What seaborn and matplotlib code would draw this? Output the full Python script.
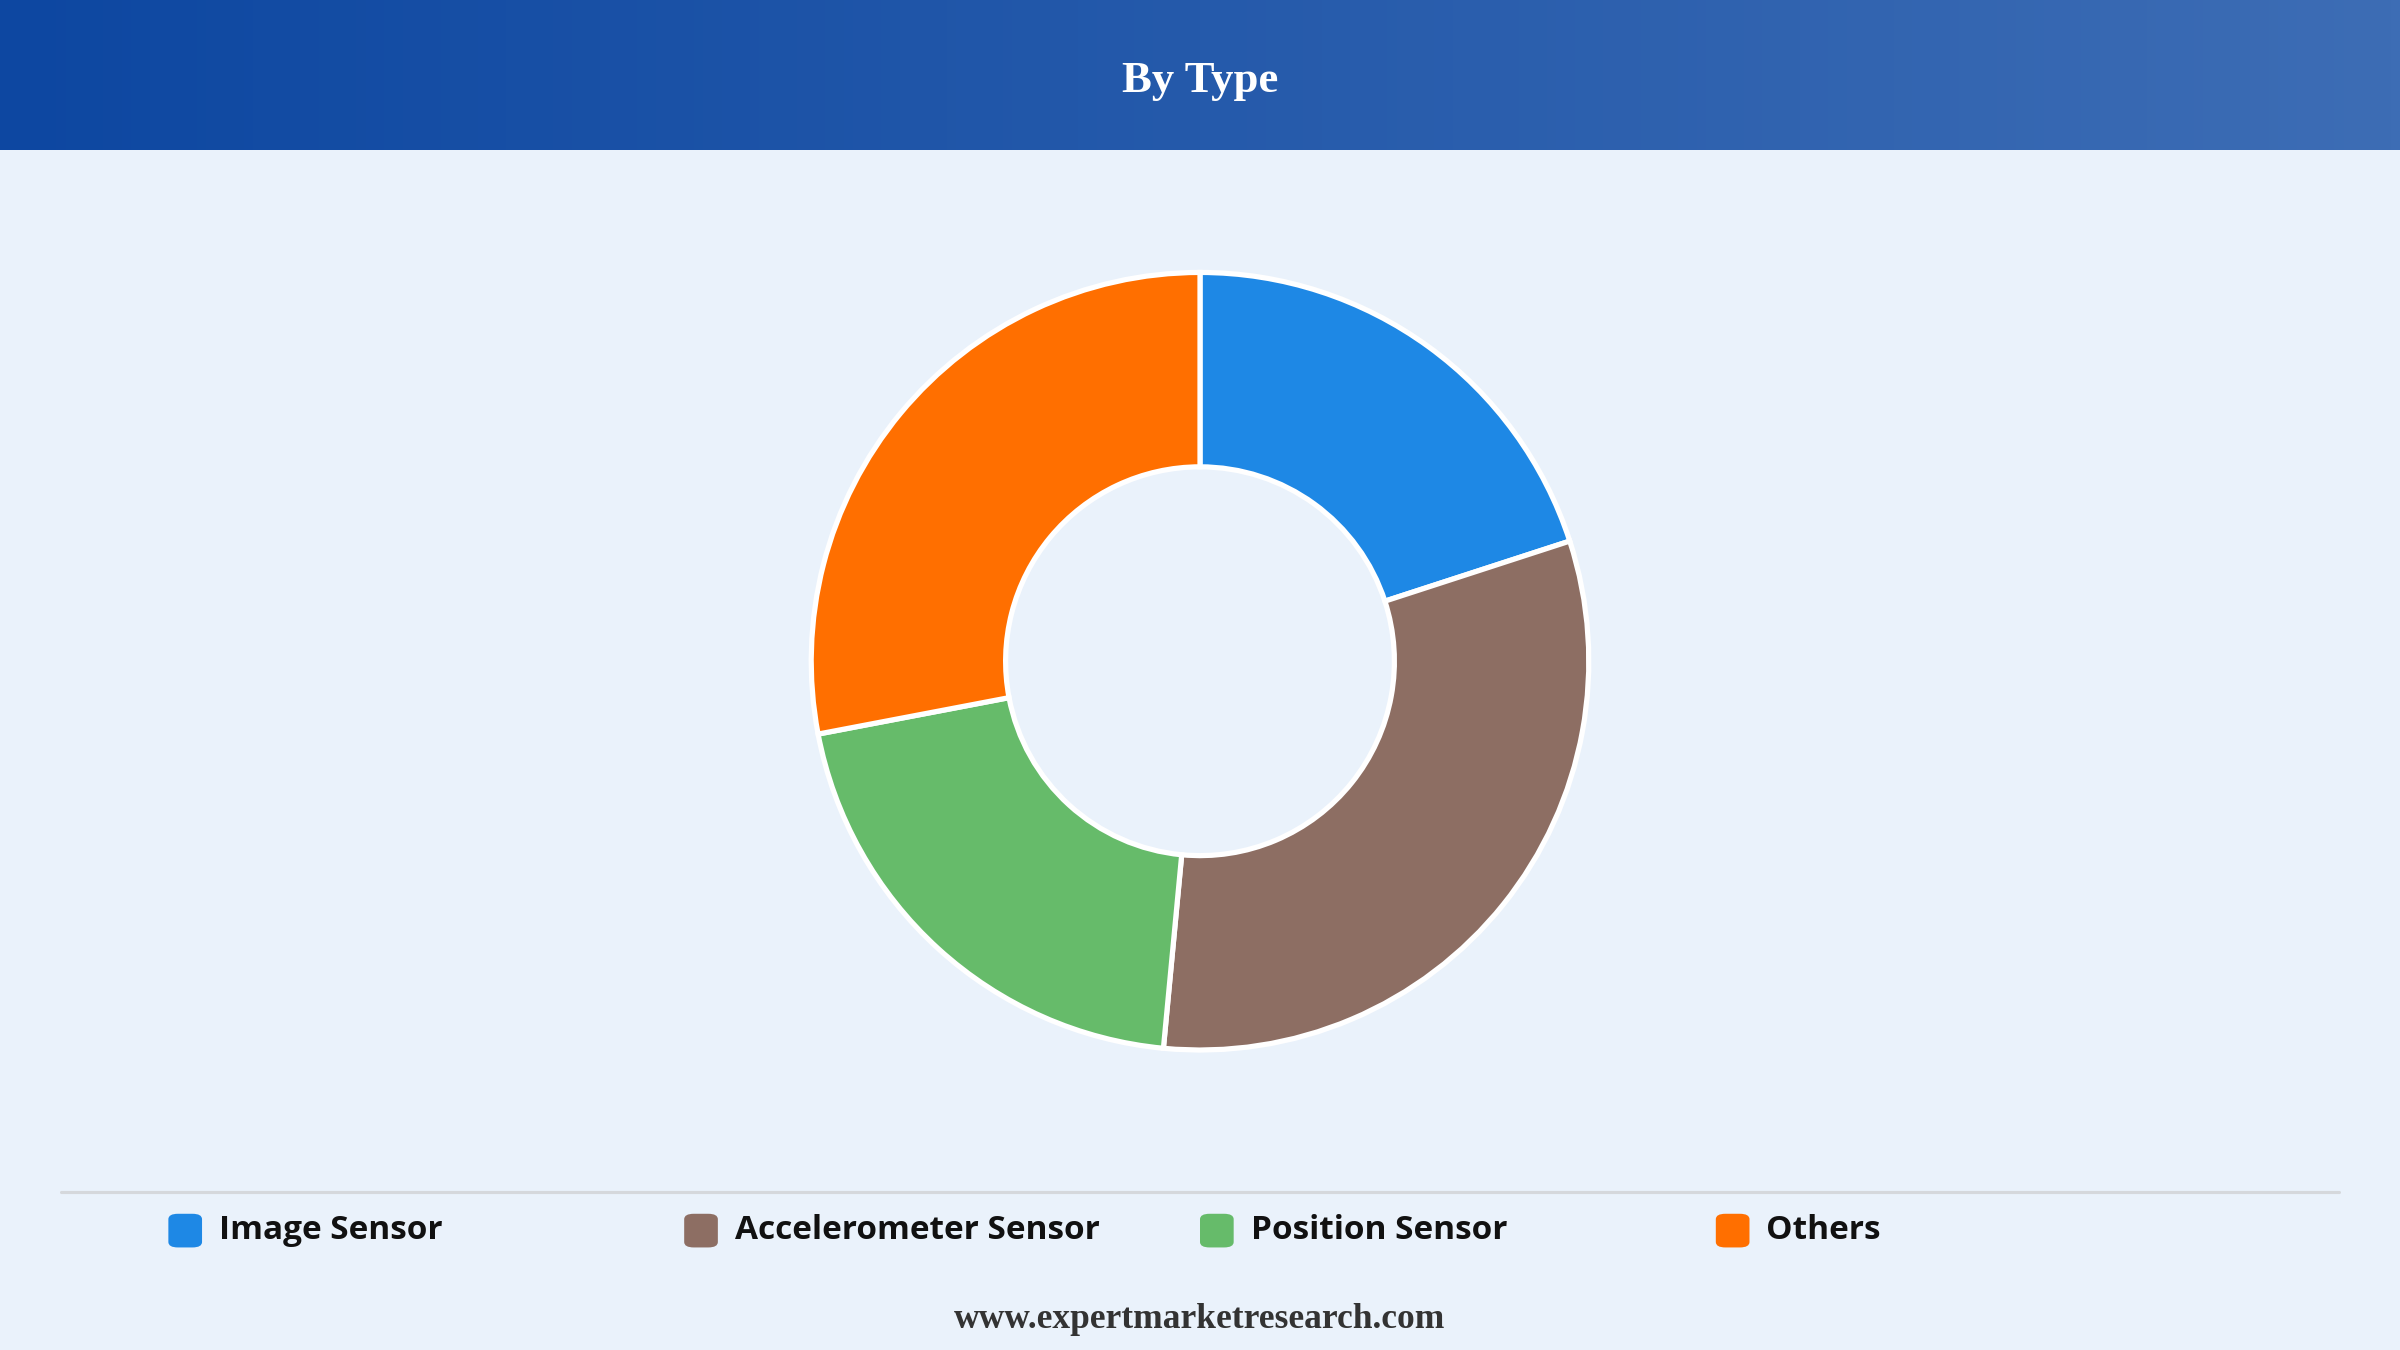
import numpy as np
import matplotlib
matplotlib.use("Agg")
import matplotlib.pyplot as plt
from matplotlib.patches import FancyBboxPatch
from matplotlib.colors import LinearSegmentedColormap
import seaborn as sns

sns.set_theme(style="white")

# Data
categories = ["Image Sensor", "Accelerometer Sensor", "Position Sensor", "Others"]
shares = [20.0, 31.5, 20.5, 28.0]
colors = ["#1E88E5", "#8D6E63", "#66BB6A", "#FF6F00"]

BG = "#EAF2FB"
W, H = 1568.0, 882.0  # reference layout units

fig = plt.figure(figsize=(16, 9), dpi=150, facecolor=BG)

# Header band with gradient
hdr = fig.add_axes([0, 1 - 98 / H, 1, 98 / H])
cmap = LinearSegmentedColormap.from_list("hdr", ["#0D47A1", "#3D6DB5"])
hdr.imshow(np.linspace(0, 1, 256).reshape(1, -1), aspect="auto", cmap=cmap, extent=[0, 1, 0, 1])
hdr.set_axis_off()
fig.text(0.5, 1 - 53 / H, "By Type", ha="center", va="center", color="white",
         fontsize=21.5, fontweight="bold", family="Liberation Serif")

# Donut
r = 254 / H
h = 2 * r * 1.02
w = h * 9 / 16
ax = fig.add_axes([0.5 - w / 2, (1 - 432 / H) - h / 2, w, h])
ax.set_facecolor(BG)
ax.pie(shares, colors=colors, startangle=90, counterclock=False, radius=1.0,
       wedgeprops=dict(width=0.5, edgecolor="white", linewidth=2.5))
ax.set_xlim(-1.02, 1.02)
ax.set_ylim(-1.02, 1.02)
ax.set_aspect("equal")
ax.set_axis_off()

# Separator line
fig.add_artist(plt.Line2D([40 / W, 1528 / W], [1 - 779 / H] * 2, color="#D5D8DC", lw=1.5))

# Legend
ly = 1 - 804 / H
xs = [110, 447, 784, 1121]
for x, lab, c in zip(xs, categories, colors):
    sq = 22
    fig.add_artist(FancyBboxPatch((x / W, ly - sq / 2 / H), sq / W, sq / H,
                                  boxstyle="round,pad=0,rounding_size=0.004",
                                  transform=fig.transFigure, fc=c, ec="none"))
    fig.text((x + 33) / W, ly, lab, ha="left", va="center", fontsize=16,
             fontweight="bold", family="Open Sans", color="#111111")

# Footer
fig.text(0.5, 1 - 862 / H, "www.expertmarketresearch.com", ha="center", va="center",
         fontsize=17, fontweight="bold", family="Liberation Serif", color="#333333")

fig.savefig("out.png", dpi=150, facecolor=BG)
